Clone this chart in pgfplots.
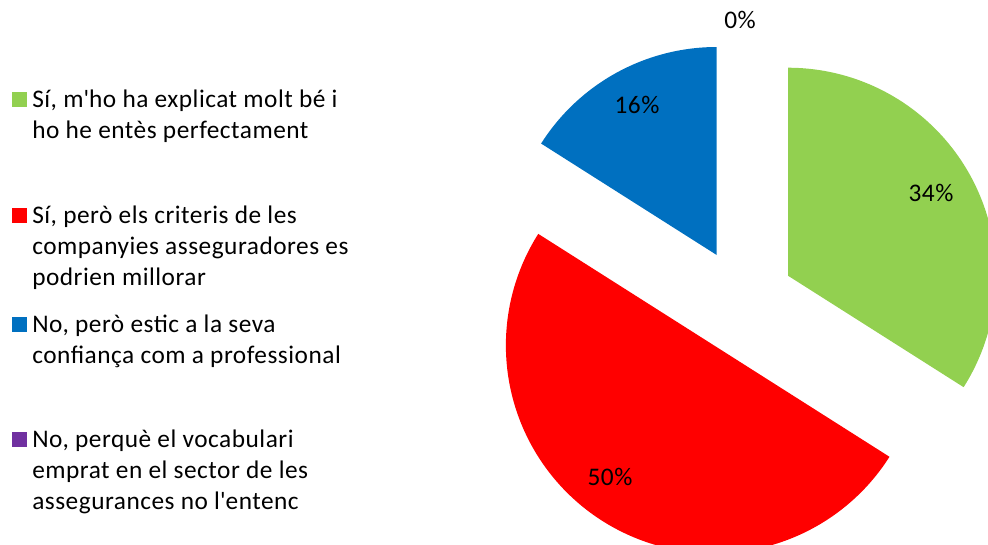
\documentclass[border=0pt]{standalone}
\usepackage{pgfplots}
\pgfplotsset{compat=1.18}
\usepackage{pgfplotstable}
\usepackage{fontspec}
\setmainfont{Carlito}[LetterSpace=2]
\definecolor{slicegreen}{HTML}{92D050}
\definecolor{slicered}{HTML}{FF0000}
\definecolor{sliceblue}{HTML}{0070C0}
\definecolor{slicepurple}{HTML}{7030A0}
\tikzset{lbl/.style={font=\fontsize{19}{23}\selectfont, text=black, inner sep=0pt}}

\pgfplotstableread{
value
34
50
16
0
}\piedata

\pgfplotstablegetelem{0}{value}\of\piedata \edef\vA{\pgfplotsretval}
\pgfplotstablegetelem{1}{value}\of\piedata \edef\vB{\pgfplotsretval}
\pgfplotstablegetelem{2}{value}\of\piedata \edef\vC{\pgfplotsretval}
\pgfplotstablegetelem{3}{value}\of\piedata \edef\vD{\pgfplotsretval}

\pgfmathsetmacro\aA{90}
\pgfmathsetmacro\bA{\aA-3.6*\vA}
\pgfmathsetmacro\bB{\bA-3.6*\vB}
\pgfmathsetmacro\bC{\bB-3.6*\vC}

\newcommand\slice[3]{%
  \pgfmathsetmacro\midang{(#1+#2)/2}%
  \pgfmathsetmacro\vx{742+52.5*cos(\midang)}%
  \pgfmathsetmacro\vy{301-52.5*sin(\midang)}%
  \edef\doslice{\noexpand\addplot[fill=#3,draw=none,domain=#2:#1,samples=150]
    ({\vx+208*cos(x)},{\vy-208*sin(x)}) -- (axis cs:\vx,\vy) -- cycle;}%
  \doslice}

\begin{document}
\begin{tikzpicture}[x=1pt,y=1pt]
\begin{axis}[
  scale only axis, width=741pt, height=408pt,
  xmin=0, xmax=988, ymin=0, ymax=544, y dir=reverse,
  axis lines=none, clip=true,
]
\slice{\aA}{\bA}{slicegreen}
\slice{\bA}{\bB}{slicered}
\slice{\bB}{\bC}{sliceblue}

% legend squares
\addplot[only marks, mark=square*, mark size=5.25pt, mark options={fill=slicegreen, draw=slicegreen}] coordinates {(19,99.5)};
\addplot[only marks, mark=square*, mark size=5.25pt, mark options={fill=slicered, draw=slicered}] coordinates {(19,215.5)};
\addplot[only marks, mark=square*, mark size=5.25pt, mark options={fill=sliceblue, draw=sliceblue}] coordinates {(19,324.5)};
\addplot[only marks, mark=square*, mark size=5.25pt, mark options={fill=slicepurple, draw=slicepurple}] coordinates {(19,439)};

% legend text
\node[lbl,anchor=base west] at (axis cs:32,107) {Sí, m\textquotesingle ho ha explicat molt bé i};
\node[lbl,anchor=base west] at (axis cs:32,138) {ho he entès perfectament};
\node[lbl,anchor=base west] at (axis cs:32,223) {Sí, però els criteris de les};
\node[lbl,anchor=base west] at (axis cs:32,254) {companyies asseguradores es};
\node[lbl,anchor=base west] at (axis cs:32,285) {podrien millorar};
\node[lbl,anchor=base west] at (axis cs:32,332) {No, però estic a la seva};
\node[lbl,anchor=base west] at (axis cs:32,363) {confiança com a professional};
\node[lbl,anchor=base west] at (axis cs:32,447) {No, perquè el vocabulari};
\node[lbl,anchor=base west] at (axis cs:32,478) {emprat en el sector de les};
\node[lbl,anchor=base west] at (axis cs:32,509) {assegurances no l\textquotesingle entenc};

% data labels
\node[lbl] at (axis cs:931,193) {34\%};
\node[lbl] at (axis cs:610,477) {50\%};
\node[lbl] at (axis cs:637,105) {16\%};
\node[lbl] at (axis cs:740,20) {0\%};
\end{axis}
\pgfresetboundingbox
\useasboundingbox (current axis.south west) rectangle (current axis.north east);
\end{tikzpicture}
\end{document}
